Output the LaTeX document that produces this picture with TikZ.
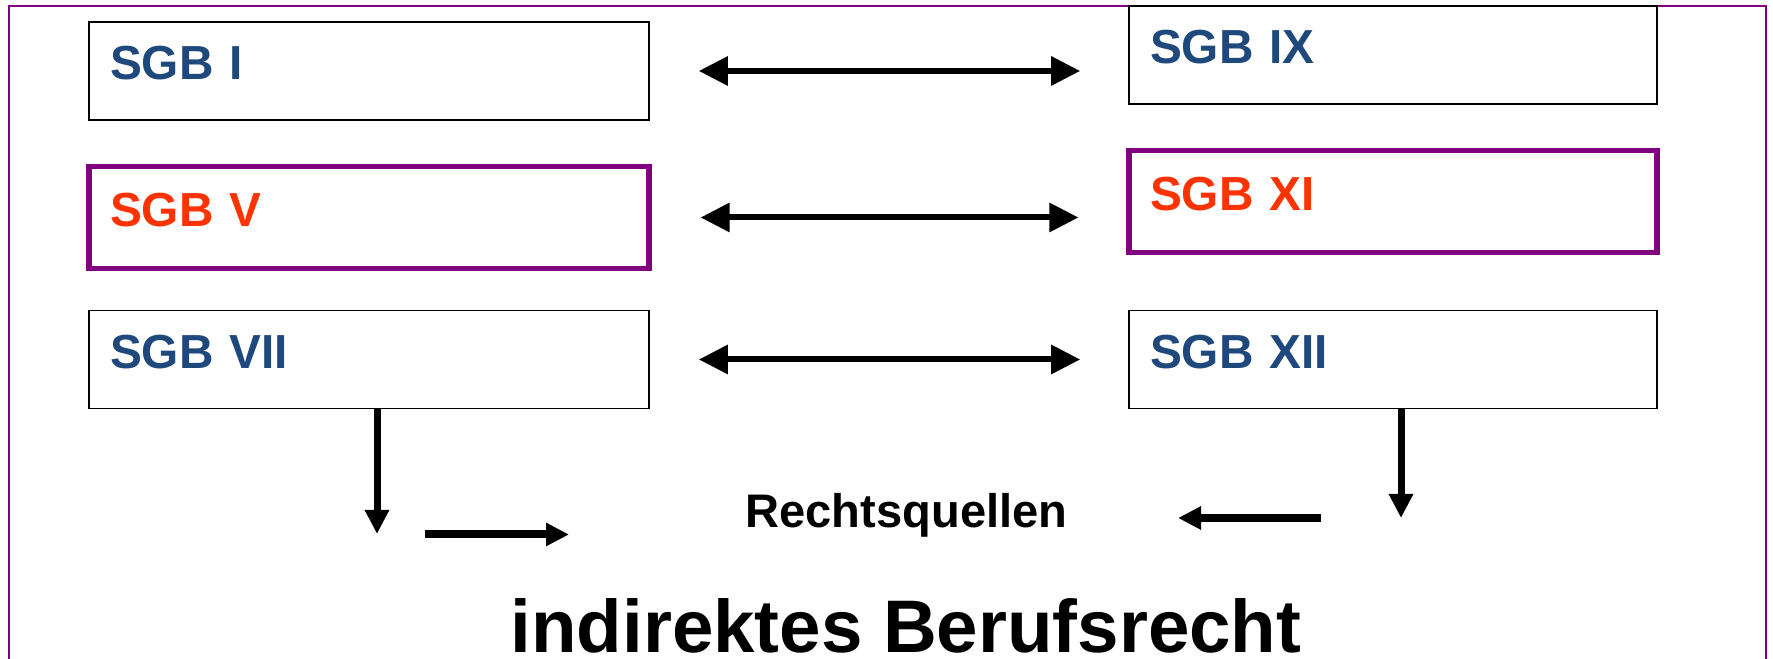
\documentclass[tikz,border=0pt]{standalone}
\usepackage{fontspec}
\setmainfont{Liberation Sans}
\usetikzlibrary{arrows.meta}
\definecolor{sgbblau}{RGB}{31,73,125}
\definecolor{sgbrot}{RGB}{255,51,0}
\definecolor{lila}{RGB}{128,0,128}

\begin{document}
\begin{tikzpicture}
[every node/.style={inner sep=0pt},%
  buch/.style={draw,line width=0.45pt,text width=#1,align=left,inner xsep=0.21cm,%
    text height=0.58cm,text depth=0.40cm,%
    font=\bfseries\fontsize{13.6}{16}\selectfont,text=sgbblau},%
  buchlila/.style={buch=#1,draw=lila,line width=1.45pt,%
    text height=0.60cm,text depth=0.42cm,text=sgbrot},%
  doppelpfeil/.style={{Triangle[length=0.29cm,width=0.28cm]}-{Triangle[length=0.29cm,width=0.28cm]},%
    line width=0.06cm,shorten <=0.49cm,shorten >=0.48cm},%
  runterpfeil/.style={-{Triangle[length=0.24cm,width=0.23cm]},line width=0.07cm},%
  kurzpfeil/.style={-{Triangle[length=0.23cm,width=0.22cm]},line width=0.08cm}]
\useasboundingbox (0,0) rectangle (17.73,6.59);
% Rahmen, unten offen
\draw[lila,line width=0.45pt] (0.09,0) -- (0.09,6.53) -- (17.66,6.53) -- (17.66,0);

% linke Spalte
\node[buch=5.18cm] (sgbI) at (3.69,5.88) {SGB I};
\node[buchlila=5.18cm] (sgbV) at (3.69,4.415) {SGB V};
\node[buch=5.18cm] (sgbVII) at (3.69,2.995) {SGB VII};

% rechte Spalte
\node[buch=4.86cm] (sgbIX) at (13.93,6.04) {SGB IX};
\node[buchlila=4.86cm] (sgbXI) at (13.93,4.5775) {SGB XI};
\node[buch=4.86cm] (sgbXII) at (13.93,2.995) {SGB XII};

\node[anchor=base,font=\bfseries\fontsize{13.4}{16}\selectfont] (quellen) at (9.065,1.31) {Rechtsquellen};
\node[anchor=base,font=\bfseries\fontsize{21.2}{25}\selectfont] (berufsrecht) at (9.06,0.06) {indirektes Berufsrecht};

% Pfeile
\draw[doppelpfeil] (sgbI.east) -- (sgbI.east -| sgbIX.west);
\draw[doppelpfeil] (sgbV.east) -- (sgbV.east -| sgbXI.west);
\draw[doppelpfeil] (sgbVII.east) -- (sgbXII.west);

\coordinate (linksunten) at (3.77,1.25);
\coordinate (rechtsunten) at (14.01,1.41);
\draw[runterpfeil] (sgbVII.south -| linksunten) -- (linksunten);
\draw[runterpfeil] (sgbXII.south -| rechtsunten) -- (rechtsunten);

\coordinate (rpfeilA) at (4.25,1.245);
\coordinate (rpfeilB) at (5.69,1.245);
\coordinate (lpfeilA) at (13.21,1.41);
\coordinate (lpfeilB) at (11.78,1.41);
\draw[kurzpfeil] (rpfeilA) -- (rpfeilB);
\draw[kurzpfeil] (lpfeilA) -- (lpfeilB);
\end{tikzpicture}
\end{document}
